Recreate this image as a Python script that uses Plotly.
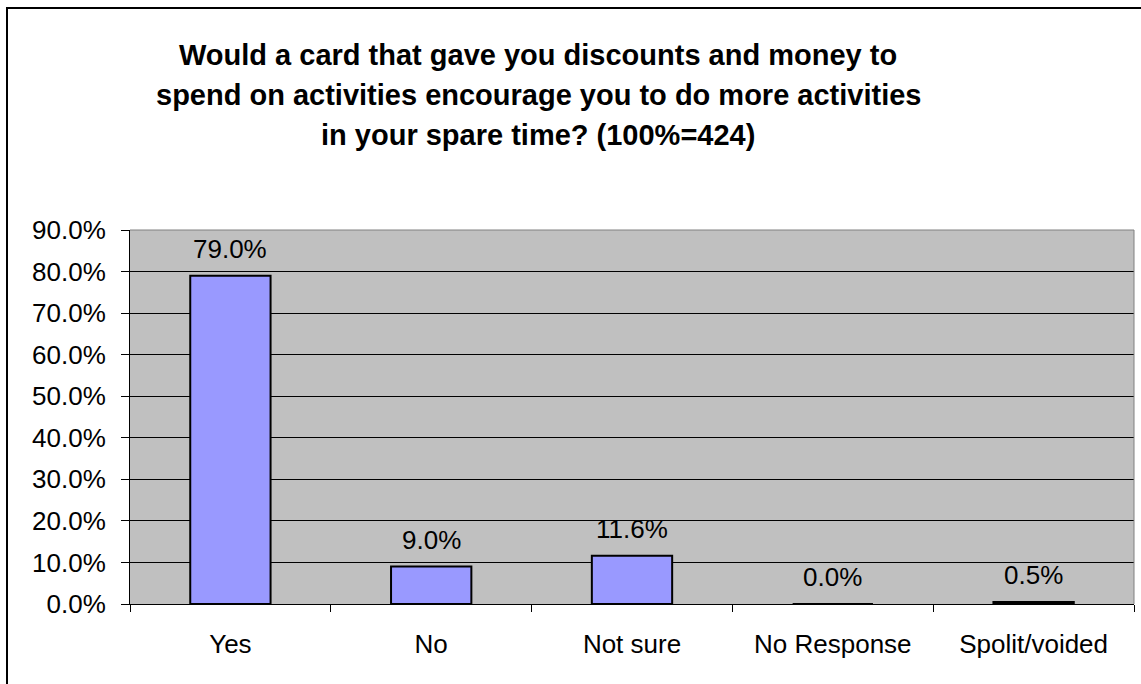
import plotly.graph_objects as go

categories = ["Yes", "No", "Not sure", "No Response", "Spolit/voided"]
values = [0.790, 0.090, 0.116, 0.000, 0.005]
value_labels = ["79.0%", "9.0%", "11.6%", "0.0%", "0.5%"]
title_lines = [
    "Would a card that gave you discounts and money to",
    "spend on activities encourage you to do more activities",
    "in your spare time? (100%=424)",
]

W, H = 1141, 684
L, R, T, B = 130, 7, 230, 80
pw, ph = W - L - R, H - T - B


def px_x(px):
    return (px - L) / pw


def px_y(py):
    return (H - B - py) / ph


FONT = "Liberation Sans, Arial, sans-serif"

fig = go.Figure()
fig.add_trace(go.Bar(
    x=categories, y=values, width=0.4,
    marker=dict(color="#9999FF", line=dict(color="black", width=2)),
    hoverinfo="skip",
))

annotations = []
for c, v, t in zip(categories, values, value_labels):
    annotations.append(dict(
        x=c, y=v, xref="x", yref="y", text=t, showarrow=False,
        yanchor="bottom", yshift=10,
        font=dict(family=FONT, size=26, color="black"),
    ))

for i, line in enumerate(title_lines):
    annotations.append(dict(
        x=px_x(538), y=px_y(55 + 40 * i), xref="paper", yref="paper",
        text="<b>%s</b>" % line, showarrow=False,
        xanchor="center", yanchor="middle",
        font=dict(family=FONT, size=29, color="black"),
    ))

shapes = [
    dict(type="path", xref="paper", yref="paper",
         path="M 0 1 L 1 1 L 1 0", line=dict(color="#808080", width=1)),
    dict(type="rect", xref="paper", yref="paper",
         x0=px_x(7), y0=px_y(700), x1=px_x(1160), y1=px_y(8),
         line=dict(color="black", width=2), fillcolor="rgba(0,0,0,0)"),
]

fig.update_layout(
    width=W, height=H,
    margin=dict(l=L, r=R, t=T, b=B),
    paper_bgcolor="white",
    plot_bgcolor="#C0C0C0",
    showlegend=False,
    annotations=annotations,
    shapes=shapes,
    font=dict(family=FONT, size=26, color="black"),
)
fig.update_xaxes(
    type="category",
    showline=True, linecolor="black", linewidth=1,
    ticks="outside", tickson="boundaries", ticklen=7, tickcolor="black",
    tickfont=dict(family=FONT, size=26, color="black"),
    ticklabelstandoff=17,
    showgrid=False, zeroline=False,
)
fig.update_yaxes(
    range=[0, 0.9], dtick=0.1, tickformat=".1%",
    showline=True, linecolor="black", linewidth=1,
    ticks="outside", ticklen=8, tickcolor="black",
    tickfont=dict(family=FONT, size=26, color="black"),
    ticklabelstandoff=10,
    showgrid=True, gridcolor="black", gridwidth=1,
    zeroline=False,
)

fig.write_html(
    "out.html",
    config={"displayModeBar": False},
    post_script="document.body.style.margin='0';document.body.style.overflow='hidden';",
)
